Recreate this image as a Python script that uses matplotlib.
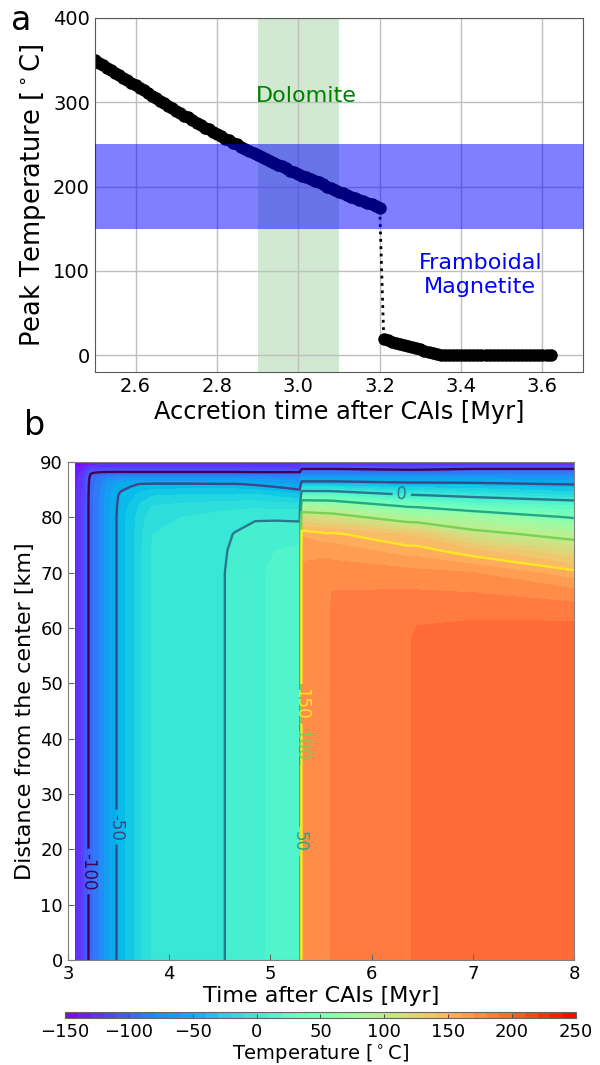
#!/usr/bin/env python3
"""
Peak temperature vs accretion time (a) and the thermal history map of the body (b).
"""

import numpy as np
import matplotlib
matplotlib.use('Agg')
import matplotlib.pyplot as plt

# ---- panel a: peak temperature [C] vs accretion time [Myr after CAIs] ----
hot_times = [2.50, 2.51, 2.52, 2.53, 2.54, 2.55, 2.56, 2.57, 2.58, 2.59,
             2.60, 2.61, 2.62, 2.63, 2.64, 2.65, 2.66, 2.67, 2.68, 2.69,
             2.70, 2.71, 2.72, 2.73, 2.74, 2.75, 2.76, 2.77, 2.78, 2.79,
             2.80, 2.81, 2.82, 2.83, 2.84, 2.85, 2.86, 2.87, 2.88, 2.89,
             2.90, 2.91, 2.92, 2.93, 2.94, 2.95, 2.96, 2.97, 2.98, 2.99,
             3.00, 3.01, 3.02, 3.03, 3.04, 3.05, 3.06, 3.07, 3.08, 3.09,
             3.10, 3.11, 3.12, 3.13, 3.14, 3.15, 3.16, 3.17, 3.18, 3.19, 3.20]
hot_peak_temps = [350, 347, 344, 341, 338, 335, 332, 329, 326, 323,
                  320, 317, 314, 311, 308, 305, 302, 299, 296, 293,
                  290, 287, 284, 282, 279, 276, 273, 270, 268, 265,
                  262, 260, 257, 255, 252, 250, 247, 245, 242, 240,
                  237, 235, 233, 230, 228, 226, 224, 222, 219, 217,
                  215, 213, 211, 209, 207, 205, 203, 200, 198, 196,
                  194, 192, 190, 188, 186, 184, 183, 181, 179, 177, 175]

cold_times = [3.21, 3.22, 3.23, 3.24, 3.25, 3.26, 3.27, 3.28, 3.29, 3.30,
              3.31, 3.32, 3.33, 3.34, 3.35, 3.36, 3.37, 3.38, 3.39, 3.40,
              3.41, 3.42, 3.43, 3.44, 3.45, 3.46, 3.47, 3.48, 3.49, 3.50,
              3.51, 3.52, 3.53, 3.54, 3.55, 3.56, 3.57, 3.58, 3.59, 3.60,
              3.61, 3.62]
cold_peak_temps = [19, 17.5, 16, 15, 13.5, 12, 11, 10, 8.5, 7,
                   5.5, 4, 2.5, 1, 0, 0, 0, 0, 0, 0,
                   0, 0, 0, 0, 0, 0, 0, 0, 0, 0,
                   0, 0, 0, 0, 0, 0, 0, 0, 0, 0,
                   0, 0]

dolomite_window = (2.9, 3.1)      # Myr
magnetite_window = (150, 250)     # C

# ---- panel b: temperature [C], one row per time ----
map_times = [3.07, 3.14, 3.22, 3.30, 3.40, 3.52, 3.62, 3.73, 3.84, 4.20,
             4.50, 4.65, 4.85, 5.05, 5.29, 5.31, 5.55, 5.62, 6.35, 6.45,
             7.00, 8.00]
map_radii = [0, 58, 62, 66, 70, 74, 77, 80, 82, 84, 86, 87, 88, 89, 90]
map_temps = [
    [-132, -132, -132, -132, -132, -132, -132, -132, -132, -133, -134, -135, -137, -141, -150],
    [-118, -118, -118, -118, -118, -118, -118, -118, -118, -119, -120, -122, -126, -134, -150],
    [-95, -95, -95, -95, -95, -95, -95, -95, -95, -95, -96, -97, -101, -122, -145],
    [-82, -82, -82, -82, -82, -82, -82, -82, -82, -83, -85, -89, -97, -120, -140],
    [-62, -62, -62, -62, -62, -62, -62, -62, -62, -63, -66, -76, -95, -120, -140],
    [-44, -44, -44, -44, -44, -44, -44, -44, -45, -47, -56, -72, -95, -120, -140],
    [-35, -35, -35, -35, -35, -35, -35, -36, -38, -43, -52, -70, -95, -120, -140],
    [-20, -20, -20, -20, -20, -20, -21, -23, -27, -36, -49, -70, -95, -120, -140],
    [-8, -8, -8, -8, -8, -8.5, -10, -13, -19, -31, -48, -70, -95, -120, -140],
    [-4, -4, -4, -4, -4, -4.5, -6, -9, -16, -29, -48, -70, -95, -120, -140],
    [-1, -1, -1, -1, -1, -1.5, -3, -6, -14, -28, -49, -70, -95, -120, -140],
    [2, 2, 2, 2, 2, 1.5, 0.5, -4, -13, -28, -49, -70, -95, -120, -140],
    [9, 9, 9, 9, 9, 8, 5, -1.5, -12, -28, -52, -72, -96, -120, -140],
    [11, 11, 11, 11, 11, 10, 6, -1.5, -14, -32, -56, -74, -96, -120, -140],
    [14, 14, 14, 14, 14, 12, 6, -2, -14, -38, -62, -78, -96, -120, -140],
    [172, 172, 172, 172, 172, 168, 158, 118, 80, 25, -40, -60, -85, -105, -140],
    [177, 177, 177, 177, 175, 167, 152, 113, 78, 24, -40, -60, -85, -105, -140],
    [182, 182, 182, 181, 175, 166, 152, 112, 77, 23, -40, -60, -85, -105, -140],
    [188, 188, 187, 182, 174, 155, 138, 85, 48, 2, -45, -62, -88, -108, -140],
    [193, 193, 188, 182, 173, 155, 137, 84, 47, 1, -45, -62, -88, -108, -140],
    [196, 196, 189, 181, 170, 143, 108, 76, 30, -6, -46, -63, -85, -105, -140],
    [198, 198, 188, 176, 154, 118, 90, 48, 22, -20, -51, -66, -85, -105, -140],
]

contour_levels = [-100, -50, 0, 50, 100, 150]
cbar_ticks = [-150, -100, -50, 0, 50, 100, 150, 200, 250]

# where each contour label sits (time, radius)
label_spots = {-100: (3.21, 16), -50: (3.48, 24), 0: (6.30, 84.9),
               50: (5.30, 21.4), 100: (5.30, 38.8), 150: (5.30, 46.3)}


def draw_peak_temperature(ax):
    """Panel a"""
    times = hot_times + cold_times
    temps = hot_peak_temps + cold_peak_temps
    ax.plot(times, temps, linestyle=':', linewidth=2, color='black',
            marker='o', markersize=8, zorder=2)

    ax.axvspan(*dolomite_window, color='green', alpha=0.18, lw=0, zorder=1)
    ax.axhspan(*magnetite_window, color='blue', alpha=0.5, lw=0, zorder=3)

    ax.text(3.02, 308, 'Dolomite', color='green', fontsize=16,
            ha='center', va='center', zorder=4)
    ax.text(3.447, 95, 'Framboidal\nMagnetite', color='blue', fontsize=16,
            ha='center', va='center', zorder=4)

    ax.set_xlim(2.5, 3.7)
    ax.set_ylim(-20, 400)
    ax.set_xticks([2.6, 2.8, 3.0, 3.2, 3.4, 3.6])
    ax.set_yticks([0, 100, 200, 300, 400])
    ax.set_xticklabels(['2.6', '2.8', '3.0', '3.2', '3.4', '3.6'])
    ax.grid(True, color='0.75', linewidth=1)
    ax.tick_params(direction='in', labelsize=14, length=0)
    ax.set_xlabel('Accretion time after CAIs [Myr]', fontsize=17.3, labelpad=3)
    ax.set_ylabel('Peak Temperature [$^\\circ$C]', fontsize=18.5)
    for s in ax.spines.values():
        s.set_color('0.35')


def draw_thermal_map(ax, cax):
    """Panel b"""
    T, R = np.meshgrid(map_times, map_radii)
    Z = np.array(map_temps).T

    cf = ax.contourf(T, R, Z, levels=np.linspace(-150, 250, 41), cmap='rainbow')

    # one contour set per level so every label can be placed by hand
    line_cmap = plt.get_cmap('viridis')
    lo, hi = contour_levels[0], contour_levels[-1]
    for lev in contour_levels:
        col = line_cmap((lev - lo) / (hi - lo))
        cs = ax.contour(T, R, Z, levels=[lev], colors=[col], linewidths=1.7,
                        linestyles='solid')
        ax.clabel(cs, fmt='%d', fontsize=12, inline=True, inline_spacing=4,
                  manual=[label_spots[lev]])

    ax.set_xlim(3, 8)
    ax.set_ylim(0, 90)
    ax.set_xticks([3, 4, 5, 6, 7, 8])
    ax.set_yticks(range(0, 91, 10))
    ax.tick_params(direction='in', labelsize=13, length=4, color='0.4')
    ax.set_xlabel('Time after CAIs [Myr]', fontsize=16, labelpad=2)
    ax.set_ylabel('Distance from the center [km]', fontsize=16)
    for s in ax.spines.values():
        s.set_color('0.5')

    cbar = ax.figure.colorbar(cf, cax=cax, orientation='horizontal', ticks=cbar_ticks)
    cbar.ax.tick_params(direction='in', labelsize=13, length=3, color='0.3')
    cbar.outline.set_edgecolor('0.4')
    cbar.set_label('Temperature [$^\\circ$C]', fontsize=14, labelpad=1)


def main():
    fig = plt.figure(figsize=(6, 10.65), dpi=100)
    ax1 = fig.add_axes([0.158, 0.6507, 0.814, 0.3324])
    ax2 = fig.add_axes([0.1133, 0.0986, 0.8433, 0.4676])
    cax = fig.add_axes([0.1083, 0.0441, 0.8517, 0.0058])

    draw_peak_temperature(ax1)
    draw_thermal_map(ax2, cax)

    fig.text(0.018, 0.972, 'a', fontsize=24, ha='left', va='baseline')
    fig.text(0.040, 0.592, 'b', fontsize=24, ha='left', va='baseline')

    fig.savefig('out.png', dpi=100)


if __name__ == "__main__":
    main()
